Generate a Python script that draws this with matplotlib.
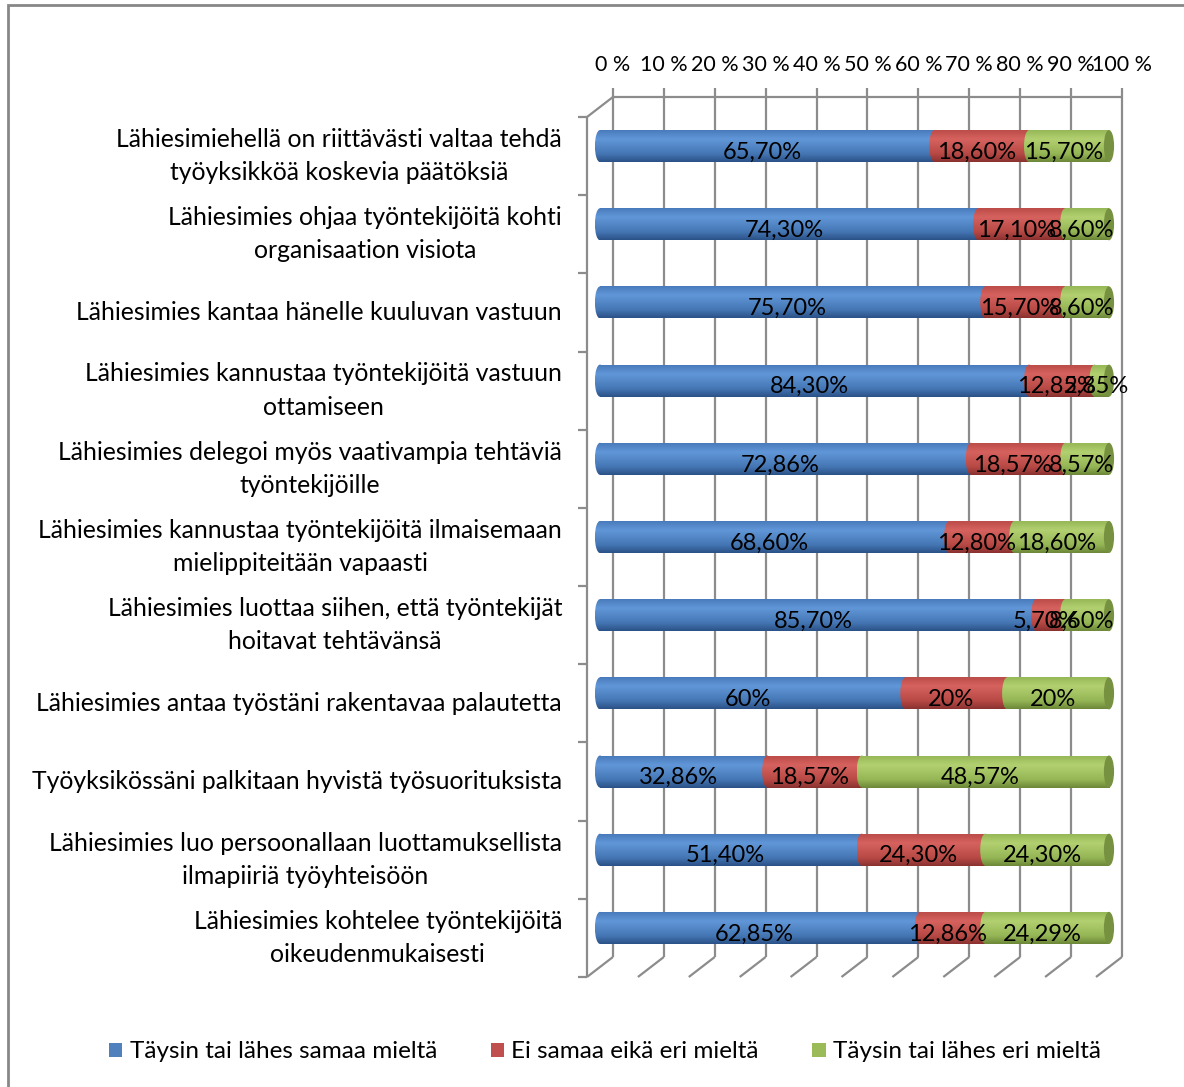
import numpy as np
import matplotlib
matplotlib.use("Agg")
import matplotlib.pyplot as plt
from matplotlib.patches import Rectangle, Ellipse, Patch
from matplotlib.colors import to_rgb

plt.rcParams["font.family"] = ["Lato", "DejaVu Sans"]

# ----------------------------------------------------------------------------
# data (rows top -> bottom)
# ----------------------------------------------------------------------------
categories = [
    "Lähiesimiehellä on riittävästi valtaa tehdä\ntyöyksikköä koskevia päätöksiä",
    "Lähiesimies ohjaa työntekijöitä kohti\norganisaation visiota",
    "Lähiesimies kantaa hänelle kuuluvan vastuun",
    "Lähiesimies kannustaa työntekijöitä vastuun\nottamiseen",
    "Lähiesimies delegoi myös vaativampia tehtäviä\ntyöntekijöille",
    "Lähiesimies kannustaa työntekijöitä ilmaisemaan\nmielippiteitään vapaasti",
    "Lähiesimies luottaa siihen, että työntekijät\nhoitavat tehtävänsä",
    "Lähiesimies antaa työstäni rakentavaa palautetta",
    "Työyksikössäni palkitaan hyvistä työsuorituksista",
    "Lähiesimies luo persoonallaan luottamuksellista\nilmapiiriä työyhteisöön",
    "Lähiesimies kohtelee työntekijöitä\noikeudenmukaisesti",
]
samaa = [65.70, 74.30, 75.70, 84.30, 72.86, 68.60, 85.70, 60, 32.86, 51.40, 62.85]
ei_samaa = [18.60, 17.10, 15.70, 12.85, 18.57, 12.80, 5.70, 20, 18.57, 24.30, 12.86]
eri = [15.70, 8.60, 8.60, 2.85, 8.57, 18.60, 8.60, 20, 48.57, 24.30, 24.29]

series_names = ["Täysin tai lähes samaa mieltä", "Ei samaa eikä eri mieltä",
                "Täysin tai lähes eri mieltä"]
tick_labels = ["0 %", "10 %", "20 %", "30 %", "40 %", "50 %", "60 %",
               "70 %", "80 %", "90 %", "100 %"]

# cylinder shading: (top, highlight, lower, bottom)
shades = [
    ["#4678b8", "#6197d8", "#4576b4", "#2b5288"],
    ["#b94a47", "#d6625e", "#b84945", "#8a3230"],
    ["#94b553", "#b2d070", "#95b655", "#6c8838"],
]
legend_cols = ["#4f81bd", "#c0504d", "#9bbb59"]
cap_col = "#76913f"
grid_col = "#8c8c8c"


def fmt(v):
    if float(v).is_integer():
        return f"{int(v)}%"
    return f"{v:.2f}".replace(".", ",") + "%"


def gradient(cols, n=64):
    stops = [0.0, 0.3, 0.75, 1.0]
    rgb = np.array([to_rgb(c) for c in cols])
    t = np.linspace(0, 1, n)
    g = np.stack([np.interp(t, stops, rgb[:, k]) for k in range(3)], axis=-1)
    return g[:, None, :]


# ----------------------------------------------------------------------------
# figure
# ----------------------------------------------------------------------------
W, H = 1184, 1087
fig = plt.figure(figsize=(W / 100, H / 100), dpi=100)
fig.patch.set_facecolor("white")

# front plane of the 3d box: x 0..100 -> px 587..1096, rows -> px 117..977
pxu = 5.09
xlo, xhi = -10, 115
ax = fig.add_axes([(587 + xlo * pxu) / W, 1 - 977 / H, (xhi - xlo) * pxu / W, 860 / H])
ax.axis("off")
n = len(categories)

dx, dy = 5.1, 0.256          # depth offset (x units, rows)
bx, by = dx / 2, dy / 2       # bars sit mid-depth
bar_h = 0.41
cap_w = 1.0

lw = 1.6
kw = dict(color=grid_col, lw=lw, clip_on=False, zorder=1, solid_capstyle="butt")
ticks = np.arange(0, 101, 10)
top_b, bot_b = -0.5 - dy, n - 0.5 - dy
for x in ticks:
    ax.plot([x + dx, x + dx], [top_b - 0.11, bot_b], **kw)
    ax.plot([x, x + dx], [n - 0.5, bot_b], **kw)
ax.plot([dx, 100 + dx], [top_b, top_b], **kw)
# left wall
ax.plot([0, 0], [-0.5, n - 0.5], **kw)
ax.plot([0, dx], [-0.5, top_b], **kw)
for k in range(n + 1):
    ax.plot([-1.8, 0], [-0.5 + k, -0.5 + k], **kw)

# top tick labels on the back wall
for x, lab in zip(ticks, tick_labels):
    ax.text(x + dx, -1.17, lab, ha="center", va="center", fontsize=15.5)

# category labels
for i, lab in enumerate(categories):
    ax.text(-4.9, i, lab, ha="right", va="center", multialignment="center",
            fontsize=17.8, linespacing=1.55)

# cylinders
values = np.array([samaa, ei_samaa, eri])
for i in range(n):
    row = values[:, i]
    total = row.sum()
    yc = i - by
    left = 0.0
    for s in range(3):
        w = row[s] / total * 100
        x0, x1 = left + bx, left + w + bx
        g = gradient(shades[s])
        ext = (x0, x1, yc + bar_h / 2, yc - bar_h / 2)
        im = ax.imshow(g, extent=ext, aspect="auto", interpolation="bilinear",
                       zorder=3 + s * 0.1)
        im.set_clip_path(Rectangle((x0, yc - bar_h / 2), x1 - x0, bar_h,
                                   transform=ax.transData))
        ext2 = (x0 - cap_w, x0 + cap_w, yc + bar_h / 2, yc - bar_h / 2)
        im2 = ax.imshow(g, extent=ext2, aspect="auto", interpolation="bilinear",
                        zorder=3 + s * 0.1)
        im2.set_clip_path(Ellipse((x0, yc), 2 * cap_w, bar_h,
                                  transform=ax.transData))
        ax.text(left + w / 2 + bx * 0.6, i - 0.05, fmt(row[s]), ha="center",
                va="center", fontsize=17, zorder=6)
        left += w
    ax.add_patch(Ellipse((100 + bx, yc), 2 * cap_w, bar_h, facecolor=cap_col,
                         edgecolor="none", zorder=3.5))

ax.set_xlim(xlo, xhi)
ax.set_ylim(n - 0.5, -0.5)

# legend
handles = [Patch(facecolor=c, edgecolor="none") for c in legend_cols]
fig.legend(handles, series_names, loc="center", bbox_to_anchor=(0.511, 1 - 1052 / H),
           ncol=3, frameon=False, fontsize=17.5, handlelength=0.55,
           handleheight=0.55, handletextpad=0.3, columnspacing=2.2)

# chart frame
fig.add_artist(Rectangle((8 / W, -0.05), 1.2, 1 - 5 / H + 0.05,
                         transform=fig.transFigure, fill=False,
                         edgecolor="#878787", lw=2))

fig.savefig("out.png", dpi=100)
